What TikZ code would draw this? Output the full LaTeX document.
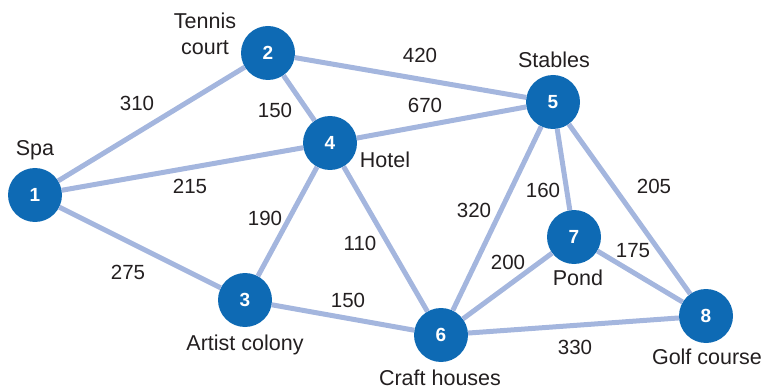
\documentclass[tikz,border=0pt]{standalone}
\usepackage{fontspec}
\setmainfont{Liberation Sans}
\definecolor{NodeClr}{RGB}{14,106,180}
\definecolor{EdgeClr}{RGB}{164,182,222}
\definecolor{TextClr}{RGB}{35,31,32}

\begin{document}
\begin{tikzpicture}[x=1pt,y=-1pt,
  site/.style={circle,fill=NodeClr,minimum size=54pt,inner sep=0pt,
    text=white,font=\fontsize{19}{19}\selectfont\bfseries},
  road/.style={draw=EdgeClr,line width=5pt},
  place/.style={text=TextClr,font=\fontsize{21.5}{26}\selectfont,align=center},
  dist/.style={text=TextClr,font=\fontsize{20.5}{20}\selectfont}]
\useasboundingbox (0,0) rectangle (763,390);

% sites
\node[site] (n1) at (35,195) {1};
\node[site] (n2) at (268,53) {2};
\node[site] (n3) at (245,300) {3};
\node[site] (n4) at (330,143) {4};
\node[site] (n5) at (553,102) {5};
\node[site] (n6) at (441,335) {6};
\node[site] (n7) at (574,237) {7};
\node[site] (n8) at (706,316) {8};

% roads
\draw[road] (n1) -- (n2);
\draw[road] (n1) -- (n4);
\draw[road] (n1) -- (n3);
\draw[road] (n2) -- (n4);
\draw[road] (n2) -- (n5);
\draw[road] (n4) -- (n5);
\draw[road] (n4) -- (n3);
\draw[road] (n4) -- (n6);
\draw[road] (n3) -- (n6);
\draw[road] (n5) -- (n6);
\draw[road] (n5) -- (n7);
\draw[road] (n5) -- (n8);
\draw[road] (n6) -- (n7);
\draw[road] (n7) -- (n8);
\draw[road] (n6) -- (n8);

% names
\node[place] (spa) at (35,150) {Spa};
\node[place] (tennis) at (205,34) {Tennis\\court};
\node[place] (hotel) at (385,160) {Hotel};
\node[place] (stables) at (554,60) {Stables};
\node[place] (artist) at (245,345) {Artist colony};
\node[place] (craft) at (440,378) {Craft houses};
\node[place] (pond) at (578,278) {Pond};
\node[place] (golf) at (707,357) {Golf course};

% distances
\node[dist] (d12) at (137,103) {310};
\node[dist] (d25) at (420,55) {420};
\node[dist] (d24) at (275,110) {150};
\node[dist] (d45) at (425,105) {670};
\node[dist] (d14) at (190,186) {215};
\node[dist] (d34) at (265,218) {190};
\node[dist] (d46) at (360,243) {110};
\node[dist] (d13) at (128,272) {275};
\node[dist] (d36) at (348,300) {150};
\node[dist] (d56) at (474,210) {320};
\node[dist] (d57) at (543,190) {160};
\node[dist] (d58) at (654,186) {205};
\node[dist] (d67) at (508,262) {200};
\node[dist] (d78) at (633,251) {175};
\node[dist] (d68) at (575,347) {330};

\end{tikzpicture}
\end{document}
